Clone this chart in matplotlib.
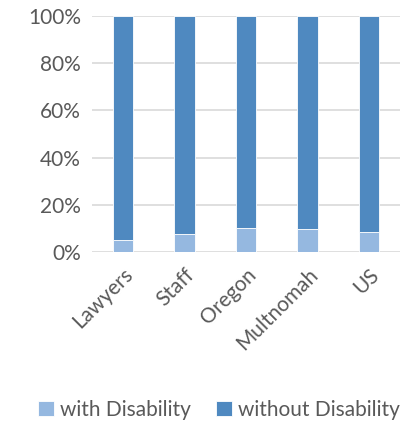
import matplotlib.pyplot as plt

categories = ["Lawyers", "Staff", "Oregon", "Multnomah", "US"]
with_disability = [5.0, 7.7, 10.3, 9.9, 8.6]
without_disability = [100 - v for v in with_disability]
y_ticks = [0, 20, 40, 60, 80, 100]

plt.rcParams['font.family'] = ['Lato', 'DejaVu Sans']
text_color = '#595959'

fig = plt.figure(figsize=(4.03, 4.21), dpi=100)
ax = fig.add_axes([92 / 403, (421 - 252) / 421, 308 / 403, 236 / 421])

x = range(len(categories))
ax.bar(x, with_disability, width=0.33, color='#95B8E0', edgecolor='white', linewidth=0.6,
       label='with Disability', zorder=3)
ax.bar(x, without_disability, width=0.33, bottom=with_disability, color='#4F89C0',
       edgecolor='white', linewidth=0.6, label='without Disability', zorder=3)

ax.set_xlim(-0.5, 4.5)
ax.set_ylim(0, 100)
ax.set_yticks(y_ticks)
ax.set_yticklabels([f"{t}%" for t in y_ticks])
ax.set_xticks(list(x))
ax.set_xticklabels(categories, rotation=45, ha='right', rotation_mode='anchor')
ax.tick_params(axis='both', length=0, labelsize=15, colors=text_color)
ax.tick_params(axis='x', pad=9)
ax.tick_params(axis='y', pad=8)
ax.grid(axis='y', color='#D9D9D9', linewidth=1.2, zorder=0)
for s in ax.spines.values():
    s.set_visible(False)

fig.legend(loc='center', bbox_to_anchor=(219 / 403, (421 - 410) / 421), ncol=2, frameon=False,
           fontsize=15, labelcolor=text_color, handlelength=0.75, handleheight=0.75,
           handletextpad=0.3, columnspacing=1.2)

fig.savefig('out.png', dpi=100)
